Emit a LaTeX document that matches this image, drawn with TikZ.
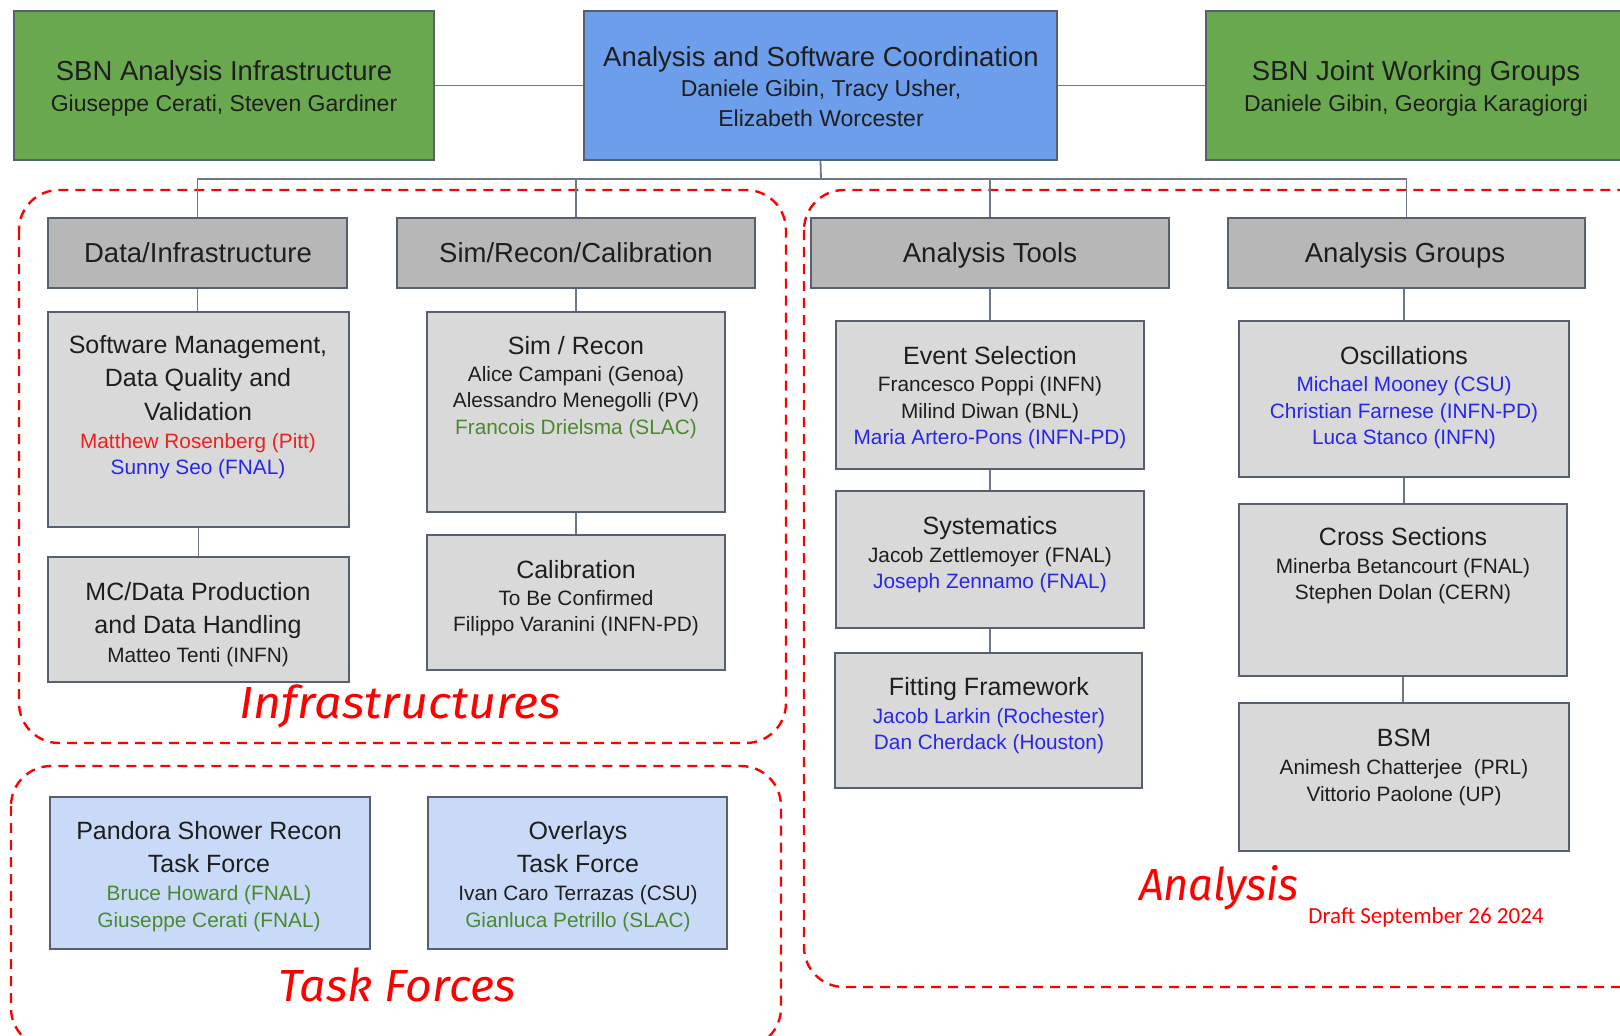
\documentclass[tikz,border=0pt]{standalone}
\usepackage{fontspec}
\usepackage{graphicx}
\setmainfont{Liberation Sans}
\newfontfamily\handfont{Fira Sans}
\newfontfamily\draftfont{Carlito}

\definecolor{leadgreen}{HTML}{6AA84F}
\definecolor{leadblue}{HTML}{6D9EEB}
\definecolor{hdrgray}{HTML}{B7B7B7}
\definecolor{subgray}{HTML}{D9D9D9}
\definecolor{taskblue}{HTML}{C9DAF8}
\definecolor{edge}{HTML}{56606E}
\definecolor{wire}{HTML}{6E7787}
\definecolor{ink}{HTML}{1E1E1E}
\definecolor{nred}{HTML}{F02020}
\definecolor{nblue}{HTML}{2626EE}
\definecolor{ngreen}{HTML}{4A8A2E}
\definecolor{grpred}{HTML}{FF0000}

% box spanning the corners (x1,y1)-(x2,y2), y measured downwards
\newcommand\orgbox[6]{%
  \node[#1, minimum width={(#5-#3)*1pt}, minimum height={(#6-#4)*1pt}]
    (#2) at ({(#3+#5)/2},{(#4+#6)/2}) {};}

\begin{document}
\begin{tikzpicture}[x=1pt,y=-1pt,
  orgframe/.style={draw=edge, line width=1.8pt, inner sep=0pt, rectangle},
  topgreen/.style={orgframe, fill=leadgreen},
  topblue/.style={orgframe, fill=leadblue},
  header/.style={orgframe, fill=hdrgray},
  unitbox/.style={orgframe, fill=subgray},
  taskbox/.style={orgframe, fill=taskblue},
  wireline/.style={draw=wire, line width=1.8pt},
  grouprim/.style={draw=grpred, line width=2.4pt, dash pattern=on 10pt off 7pt, rounded corners=40pt},
  % each text line is placed by the middle of its capitals
  txt/.style={anchor=base, inner sep=0pt, text=ink},
  bigttl/.style={txt, yshift=-9.8pt, font=\fontsize{27.5}{30}\selectfont},
  bignm/.style={txt, yshift=-8.2pt, font=\fontsize{23}{26}\selectfont},
  ttl/.style={txt, yshift=-9pt, font=\fontsize{25}{28}\selectfont},
  nm/.style={txt, yshift=-7.4pt, font=\fontsize{20.8}{24}\selectfont},
  nmred/.style={nm, text=nred},
  nmblue/.style={nm, text=nblue},
  nmgreen/.style={nm, text=ngreen},
  hand/.style={anchor=base, inner sep=0pt, text=grpred, font=\handfont\itshape\fontsize{45}{50}\selectfont},
  draft/.style={anchor=base, inner sep=0pt, text=grpred, font=\draftfont\fontsize{23}{26}\selectfont}
]
\useasboundingbox (0,0) rectangle (1620,1036);
\clip (0,0) rectangle (1620,1036);
\fill[white] (0,0) rectangle (1620,1036);

% ---- group outlines ----
\draw[grouprim] (19,190) rectangle (786,743);
\draw[grouprim] (11,766) rectangle (781,1048);
\draw[grouprim] (804,190) rectangle (1680,987);

% ---- boxes ----
\orgbox{topgreen}{sai}{14}{11}{434}{160}
\orgbox{topblue}{asc}{584}{11}{1057}{160}
\orgbox{topgreen}{jwg}{1206}{11}{1660}{160}

\orgbox{header}{hDI}{48}{218}{347}{288}
\orgbox{header}{hSR}{397}{218}{755}{288}
\orgbox{header}{hAT}{811}{218}{1169}{288}
\orgbox{header}{hAG}{1228}{218}{1585}{288}

\orgbox{unitbox}{swm}{48}{312}{349}{527}
\orgbox{unitbox}{mcd}{48}{557}{349}{682}
\orgbox{unitbox}{simr}{427}{312}{725}{512}
\orgbox{unitbox}{cal}{427}{535}{725}{670}
\orgbox{unitbox}{evs}{836}{321}{1144}{469}
\orgbox{unitbox}{sys}{836}{491}{1144}{628}
\orgbox{unitbox}{fit}{835}{653}{1142}{788}
\orgbox{unitbox}{osc}{1239}{321}{1569}{477}
\orgbox{unitbox}{xs}{1239}{504}{1567}{676}
\orgbox{unitbox}{bsm}{1239}{703}{1569}{851}

\orgbox{taskbox}{pan}{50}{797}{370}{949}
\orgbox{taskbox}{ovl}{428}{797}{727}{949}

% ---- connectors ----
\coordinate (bus) at (821,179);
\draw[wireline] (sai.east) -- (asc.west);
\draw[wireline] (asc.east) -- (jwg.west |- asc.east);
\draw[wireline] (asc.south) -- (bus);
\draw[wireline] (hDI.north) |- (hAG.north |- bus) -- (hAG.north);
\draw[wireline] (hSR.north) -- (hSR.north |- bus);
\draw[wireline] (hAT.north) -- (hAT.north |- bus);
\draw[wireline] (hDI.south) -- (hDI.south |- swm.north);
\draw[wireline] (swm.south) -- (swm.south |- mcd.north);
\draw[wireline] (simr.north) -- (simr.north |- hSR.south);
\draw[wireline] (simr.south) -- (simr.south |- cal.north);
\draw[wireline] (hAT.south) -- (hAT.south |- evs.north);
\draw[wireline] (evs.south) -- (evs.south |- sys.north);
\draw[wireline] (sys.south) -- (sys.south |- fit.north);
\draw[wireline] (osc.north) -- (osc.north |- hAG.south);
\draw[wireline] (osc.south) -- (osc.south |- xs.north);
\draw[wireline] (xs.south) -- (xs.south |- bsm.north);

% ---- top row texts ----
\node[bigttl] (sai-1) at (224,71) {SBN Analysis Infrastructure};
\node[bignm]  (sai-2) at (224,103) {Giuseppe Cerati, Steven Gardiner};
\node[bigttl] (asc-1) at (821,57) {Analysis and Software Coordination};
\node[bignm]  (asc-2) at (821,88) {Daniele Gibin, Tracy Usher,};
\node[bignm]  (asc-3) at (821,118) {Elizabeth Worcester};
\node[bigttl] (jwg-1) at (1416,71) {SBN Joint Working Groups};
\node[bignm]  (jwg-2) at (1416,103) {Daniele Gibin, Georgia Karagiorgi};

% ---- headers ----
\node[bigttl] (hDI-t) at (198,253) {Data/Infrastructure};
\node[bigttl] (hSR-t) at (576,253) {Sim/Recon/Calibration};
\node[bigttl] (hAT-t) at (990,253) {Analysis Tools};
\node[bigttl] (hAG-t) at (1405,253) {Analysis Groups};

% ---- infrastructure units ----
\node[ttl] (swm-1) at (198,344) {Software Management,};
\node[ttl] (swm-2) at (198,377.5) {Data Quality and};
\node[ttl] (swm-3) at (198,411) {Validation};
\node[nmred] (swm-4) at (198,441) {Matthew Rosenberg (Pitt)};
\node[nmblue] (swm-5) at (198,467) {Sunny Seo (FNAL)};

\node[ttl] (mcd-1) at (198,591.5) {MC/Data Production};
\node[ttl] (mcd-2) at (198,624) {and Data Handling};
\node[nm]  (mcd-3) at (198,655) {Matteo Tenti (INFN)};

\node[ttl] (simr-1) at (576,345.5) {Sim / Recon};
\node[nm]  (simr-2) at (576,374.5) {Alice Campani (Genoa)};
\node[nm]  (simr-3) at (576,400.5) {Alessandro Menegolli (PV)};
\node[nmgreen] (simr-4) at (576,427) {Francois Drielsma (SLAC)};

\node[ttl] (cal-1) at (576,569) {Calibration};
\node[nm]  (cal-2) at (576,598) {To Be Confirmed};
\node[nm]  (cal-3) at (576,624.5) {Filippo Varanini (INFN-PD)};

% ---- analysis tools ----
\node[ttl] (evs-1) at (990,355) {Event Selection};
\node[nm]  (evs-2) at (990,384.5) {Francesco Poppi (INFN)};
\node[nm]  (evs-3) at (990,411) {Milind Diwan (BNL)};
\node[nmblue] (evs-4) at (990,437) {Maria Artero-Pons (INFN-PD)};

\node[ttl] (sys-1) at (990,525) {Systematics};
\node[nm]  (sys-2) at (990,555) {Jacob Zettlemoyer (FNAL)};
\node[nmblue] (sys-3) at (990,581) {Joseph Zennamo (FNAL)};

\node[ttl] (fit-1) at (989,686) {Fitting Framework};
\node[nmblue] (fit-2) at (989,716) {Jacob Larkin (Rochester)};
\node[nmblue] (fit-3) at (989,742.5) {Dan Cherdack (Houston)};

% ---- analysis groups ----
\node[ttl] (osc-1) at (1404,355) {Oscillations};
\node[nmblue] (osc-2) at (1404,384.5) {Michael Mooney (CSU)};
\node[nmblue] (osc-3) at (1404,411) {Christian Farnese (INFN-PD)};
\node[nmblue] (osc-4) at (1404,437) {Luca Stanco (INFN)};

\node[ttl] (xs-1) at (1403,536.5) {Cross Sections};
\node[nm]  (xs-2) at (1403,566.5) {Minerba Betancourt (FNAL)};
\node[nm]  (xs-3) at (1403,592.5) {Stephen Dolan (CERN)};

\node[ttl] (bsm-1) at (1404,737) {BSM};
\node[nm]  (bsm-2) at (1404,767.5) {Animesh Chatterjee\ \ (PRL)};
\node[nm]  (bsm-3) at (1404,794.5) {Vittorio Paolone (UP)};

% ---- task forces ----
\node[ttl] (pan-1) at (209,830) {Pandora Shower Recon};
\node[ttl] (pan-2) at (209,863) {Task Force};
\node[nmgreen] (pan-3) at (209,893.5) {Bruce Howard (FNAL)};
\node[nmgreen] (pan-4) at (209,920) {Giuseppe Cerati (FNAL)};

\node[ttl] (ovl-1) at (578,830) {Overlays};
\node[ttl] (ovl-2) at (578,863) {Task Force};
\node[nm]  (ovl-3) at (578,893.5) {Ivan Caro Terrazas (CSU)};
\node[nmgreen] (ovl-4) at (578,920) {Gianluca Petrillo (SLAC)};

% ---- group labels ----
\node[hand] (lab-infra) at (400,718) {\resizebox{321pt}{\height}{Infrastructures}};
\node[hand] (lab-task) at (397,1001) {\resizebox{237pt}{\height}{Task Forces}};
\node[hand] (lab-ana) at (1219,900) {\resizebox{160pt}{\height}{Analysis}};
\node[draft] (lab-draft) at (1426,923) {Draft September 26 2024};
\end{tikzpicture}
\end{document}
